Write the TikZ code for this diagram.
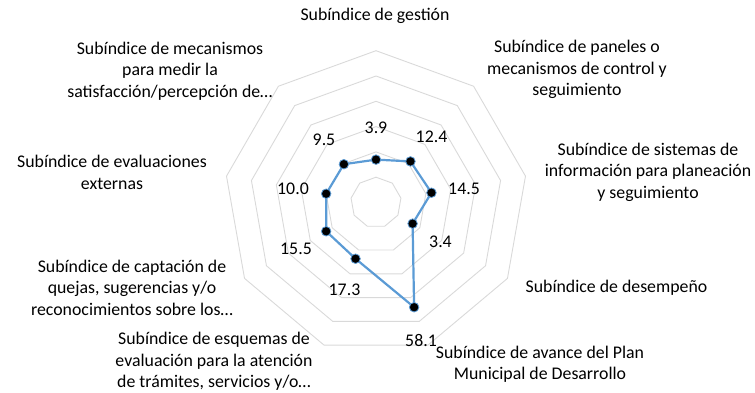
\documentclass[tikz,border=0pt]{standalone}
\usepackage{fontspec}
\setmainfont{Carlito}
\definecolor{gridgray}{HTML}{D9D9D9}
\definecolor{series}{HTML}{5B9BD5}
\begin{document}
\begin{tikzpicture}[x=1pt,y=-1pt,
  gridline/.style={draw=gridgray, line width=0.9pt},
  catlabel/.style={align=center, inner sep=0pt, font=\fontsize{17.8}{21.4}\selectfont},
  vallabel/.style={inner sep=0pt, font=\fontsize{17.8}{21.4}\selectfont},
  datapt/.style={circle, fill=black, draw=series, line width=0.8pt, minimum size=9.5pt, inner sep=0pt},
  seriesline/.style={draw=series, line width=2.2pt, line join=round}]
\useasboundingbox (0,0) rectangle (755,393);
\begin{scope}[shift={(376,202.5)}]
  \foreach \k in {1,...,6} {
    \draw[gridline] (-90:{25.3*\k}) \foreach \j in {1,...,8} { -- ({-90+40*\j}:{25.3*\k}) } -- cycle;
  }
  \foreach \v [count=\k from 0] in {3.9,12.4,14.5,3.4,58.1,17.3,15.5,10.0,9.5} {
    \coordinate (p\k) at ({-90+40*\k}:{1.265*(\v+30)});
  }
  \draw[seriesline] (p0) -- (p1) -- (p2) -- (p3) -- (p4) -- (p5) -- (p6) -- (p7) -- (p8) -- cycle;
  \foreach \k in {0,...,8} { \node[datapt] (m\k) at (p\k) {}; }
\end{scope}
% value labels
\node[vallabel] (v0) at (376,128) {3.9};
\node[vallabel] (v1) at (431.5,137) {12.4};
\node[vallabel] (v2) at (464,188.5) {14.5};
\node[vallabel] (v3) at (440.5,241.5) {3.4};
\node[vallabel] (v4) at (421,340) {58.1};
\node[vallabel] (v5) at (344.5,290) {17.3};
\node[vallabel] (v6) at (296,248.5) {15.5};
\node[vallabel] (v7) at (293,188.5) {10.0};
\node[vallabel] (v8) at (324,140) {9.5};
% category labels
\node[catlabel] (l0) at (375,16) {Subíndice de gestión};
\node[catlabel] (l1) at (577,69.5) {Subíndice de paneles o\\mecanismos de control y\\seguimiento};
\node[catlabel] (l2) at (648,172) {Subíndice de sistemas de\\información para planeación\\y seguimiento};
\node[catlabel] (l3) at (616.5,288) {Subíndice de desempeño};
\node[catlabel] (l4) at (540,364) {Subíndice de avance del Plan\\Municipal de Desarrollo};
\node[catlabel] (l5) at (214,361.5) {Subíndice de esquemas de\\evaluación para la atención\\de trámites, servicios y/o…};
\node[catlabel] (l6) at (132,287.5) {Subíndice de captación de\\quejas, sugerencias y/o\\reconocimientos sobre los…};
\node[catlabel] (l7) at (112,172.5) {Subíndice de evaluaciones\\externas};
\node[catlabel] (l8) at (170,71) {Subíndice de mecanismos\\para medir la\\satisfacción/percepción de…};
\end{tikzpicture}
\end{document}
